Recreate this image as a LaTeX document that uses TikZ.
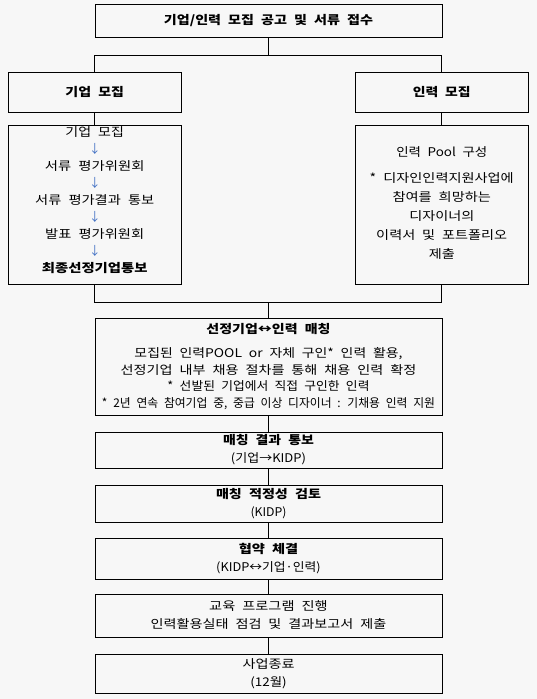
\documentclass[tikz,border=0pt]{standalone}
\usepackage{fontspec}
\usepackage{graphicx}
\setmainfont{Noto Sans CJK KR}[WordSpace=2.2]
\definecolor{bgc}{HTML}{F7F7F7}
\definecolor{arrowblue}{HTML}{4472C4}
\newcommand{\dn}{{\color{arrowblue}↓}}
\newcommand{\fw}[2]{\resizebox{#1pt}{\height}{#2}}
\begin{document}
\begin{tikzpicture}[x=1pt,y=-1pt,
  box/.style={draw, line width=1pt, inner sep=0pt, align=center, font=\fontsize{12}{18}\selectfont},
  txt/.style={inner sep=0pt, align=center},
  conn/.style={line width=1pt}]
\fill[bgc] (0,0) rectangle (537,699);
\useasboundingbox (0,0) rectangle (537,699);
% top
\node[box, minimum width=347pt, minimum height=32.5pt] (top) at (268.5,20.75) {\fw{209}{\textbf{기업/인력 모집 공고 및 서류 접수}}};
\node[box, minimum width=173.5pt, minimum height=40pt] (lbox) at (94.75,92) {\fw{58.5}{\textbf{기업 모집}}};
\node[box, minimum width=173pt, minimum height=40pt] (rbox) at (441.75,92) {\fw{58}{\textbf{인력 모집}}};
\coordinate (split) at (268.5,55.5);
\draw[conn] (top) -- (split);
\draw[conn] (split) -| (lbox);
\draw[conn] (split) -| (rbox);
% detail boxes
\node[box, minimum width=173.5pt, minimum height=158.5pt] (ld) at (94.75,205) {};
\node[box, minimum width=173pt, minimum height=158.5pt] (rd) at (441.75,205) {};
\draw[conn] (lbox) -- (ld);
\draw[conn] (rbox) -- (rd);
\node[txt, anchor=north, font=\fontsize{12}{17}\selectfont] (ldtext) at (94.75,126.5) {\fw{58.5}{기업 모집}\\ \dn\\ \fw{99.5}{서류 평가위원회}\\ \dn\\ \fw{119}{서류 평가결과 통보}\\ \dn\\ \fw{99}{발표 평가위원회}\\ \dn\\ \fw{105.5}{\textbf{최종선정기업통보}}};
\node[txt, font=\fontsize{12}{19}\selectfont] (rdtext) at (441.75,203.5) {\fw{91}{인력 Pool 구성}\\[7pt] \fw{144}{* 디자인인력지원사업에}\\ \fw{98.5}{참여를 희망하는}\\ \fw{65}{디자이너의}\\ \fw{131}{이력서 및 포트폴리오}\\ \fw{26}{제출}};
\coordinate (merge) at (268.5,302);
\draw[conn] (ld) |- (merge);
\draw[conn] (rd) |- (merge);
% main column
\node[box, minimum width=347pt, minimum height=97pt, font=\fontsize{12}{16.5}\selectfont] (match) at (268.5,366.5) {\fw{124}{\textbf{선정기업↔인력 매칭}}\\[7.5pt] \fw{268}{모집된 인력POOL or 자체 구인* 인력 활용,}\\ \fw{295.5}{선정기업 내부 채용 절차를 통해 채용 인력 확정}\\ \fw{202}{* 선발된 기업에서 직접 구인한 인력}\\ \fw{333}{* 2년 연속 참여기업 중, 중급 이상 디자이너 : 기채용 인력 지원}};
\node[box, minimum width=347pt, minimum height=36pt] (result) at (268.5,450) {\fw{91}{\textbf{매칭 결과 통보}}\\ \fw{75}{(기업→KIDP)}};
\node[box, minimum width=347pt, minimum height=37pt] (review) at (268.5,503.5) {\fw{105}{\textbf{매칭 적정성 검토}}\\ \fw{36}{(KIDP)}};
\node[box, minimum width=347pt, minimum height=41pt] (agree) at (268.5,558.5) {\fw{59.5}{\textbf{협약 체결}}\\ \fw{104.5}{(KIDP↔기업·인력)}};
\node[box, minimum width=347pt, minimum height=43pt] (edu) at (268.5,615.5) {\fw{118.5}{교육 프로그램 진행}\\ \fw{235.5}{인력활용실태 점검 및 결과보고서 제출}};
\node[box, minimum width=347pt, minimum height=39pt] (fin) at (268.5,673.5) {\fw{52}{사업종료}\\ \fw{36.5}{(12월)}};
\draw[conn] (merge) -- (match);
\draw[conn] (match) -- (result);
\draw[conn] (result) -- (review);
\draw[conn] (review) -- (agree);
\draw[conn] (agree) -- (edu);
\draw[conn] (edu) -- (fin);
\end{tikzpicture}
\end{document}
